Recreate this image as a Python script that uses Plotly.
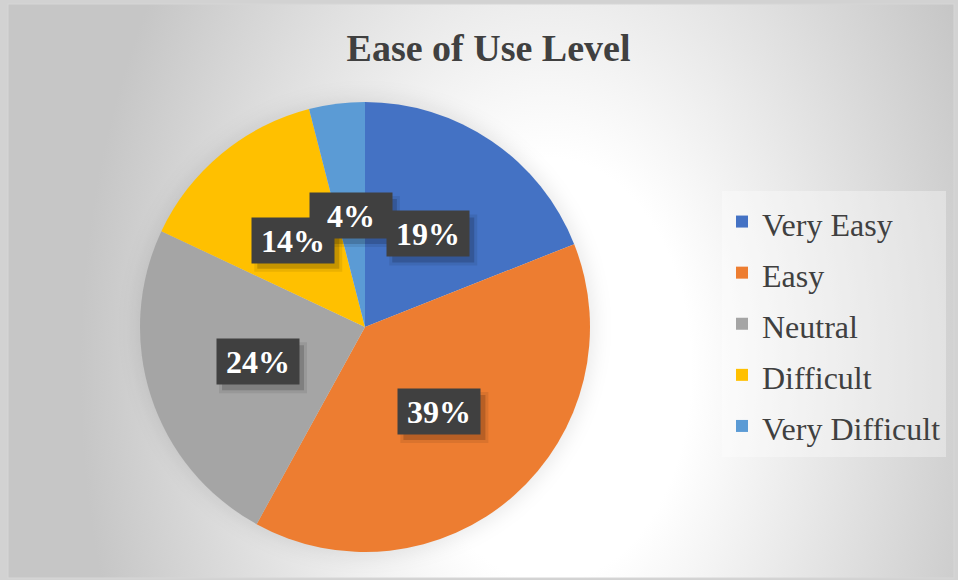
import base64
import math
import plotly.graph_objects as go

# ---- data ----
categories = ["Very Easy", "Easy", "Neutral", "Difficult", "Very Difficult"]
percentages = [19, 39, 24, 14, 4]
colors = ["#4472C4", "#ED7D31", "#A5A5A5", "#FFC000", "#5B9BD5"]
title_text = "Ease of Use Level"

# ---- geometry (pixels) ----
W, H = 958, 580
CX, CY, R = 365, 327, 225
BOX_W, BOX_H = 82, 45

# ---- background (radial gradient + soft pie shadow) ----
svg = f"""<svg xmlns='http://www.w3.org/2000/svg' width='{W}' height='{H}' viewBox='0 0 {W} {H}'>
<defs>
<radialGradient id='g' gradientUnits='userSpaceOnUse' cx='550' cy='370' r='470'
 gradientTransform='translate(550 370) scale(1 1.5) translate(-550 -370)'>
<stop offset='0' stop-color='#ffffff'/>
<stop offset='0.3' stop-color='#ffffff'/>
<stop offset='1' stop-color='#c6c6c6'/>
</radialGradient>
<filter id='b' x='-20%' y='-20%' width='140%' height='140%'><feGaussianBlur stdDeviation='9'/></filter>
</defs>
<rect x='0' y='0' width='{W}' height='{H}' fill='#d2d2d2'/>
<rect x='8' y='4' width='{W-12}' height='{H-6}' fill='url(#g)' stroke='#d6d6d6' stroke-width='1'/>
<circle cx='{CX}' cy='{CY}' r='{R+5}' fill='rgba(0,0,0,0.08)' filter='url(#b)'/>
</svg>"""
bg_src = "data:image/svg+xml;base64," + base64.b64encode(svg.encode()).decode()

fig = go.Figure()
fig.add_trace(go.Pie(
    labels=[f"<span style='font-size:32px'>{c}</span>" for c in categories],
    values=percentages,
    marker=dict(colors=colors, line=dict(width=0)),
    sort=False,
    direction="clockwise",
    rotation=0,
    textinfo="none",
    hoverinfo="label+percent",
    domain=dict(x=[(CX - R) / W, (CX + R) / W], y=[1 - (CY + R) / H, 1 - (CY - R) / H]),
    showlegend=True,
))

# ---- data labels computed from the values ----
total = sum(percentages)
annotations = []
shapes = []
cum = 0
for v in percentages:
    mid = (cum + v / 2) / total * 2 * math.pi
    cum += v
    px = CX + 0.5 * R * math.sin(mid)
    py = CY - 0.5 * R * math.cos(mid)
    txt = f"{round(v / total * 100)}%"
    # soft drop shadow (two stacked translucent rectangles)
    for grow, op in ((0, 0.16), (3, 0.08)):
        x0 = px - BOX_W / 2 + 5 - grow
        x1 = px + BOX_W / 2 + 5 + grow
        y0 = py - BOX_H / 2 + 6 - grow
        y1 = py + BOX_H / 2 + 6 + grow
        shapes.append(dict(type="rect", xref="paper", yref="paper",
                           x0=x0 / W, x1=x1 / W, y0=1 - y1 / H, y1=1 - y0 / H,
                           fillcolor=f"rgba(0,0,0,{op})", line=dict(width=0), layer="above"))
    annotations.append(dict(x=px / W, y=1 - py / H, xref="paper", yref="paper", showarrow=False,
                            text=txt, width=BOX_W - 6, height=BOX_H - 6, borderpad=3,
                            align="center", valign="middle", xanchor="center", yanchor="middle",
                            bgcolor="#404040",
                            font=dict(family="Liberation Serif", size=32, color="#ffffff",
                                      weight="bold")))

fig.update_layout(
    width=W, height=H,
    margin=dict(l=0, r=0, t=0, b=0),
    paper_bgcolor="#d2d2d2",
    plot_bgcolor="rgba(0,0,0,0)",
    images=[dict(source=bg_src, xref="paper", yref="paper", x=0, y=1, sizex=1, sizey=1,
                 xanchor="left", yanchor="top", sizing="stretch", layer="below")],
    title=dict(text=f"<b>{title_text}</b>", x=488.5 / W, xanchor="center", y=1 - 48 / H,
               yanchor="middle", yref="container",
               font=dict(family="Liberation Serif", size=38, color="#404040")),
    legend=dict(x=722 / W, y=1 - 191 / H, xanchor="left", yanchor="top",
                bgcolor="rgba(255,255,255,0.35)", borderwidth=0,
                font=dict(family="Liberation Serif", size=37, color="#404040")),
    annotations=annotations,
    shapes=shapes,
)

fig.write_html(
    "out.html",
    config={"displayModeBar": False},
    post_script="document.body.style.margin='0px';document.body.style.overflow='hidden';",
)
